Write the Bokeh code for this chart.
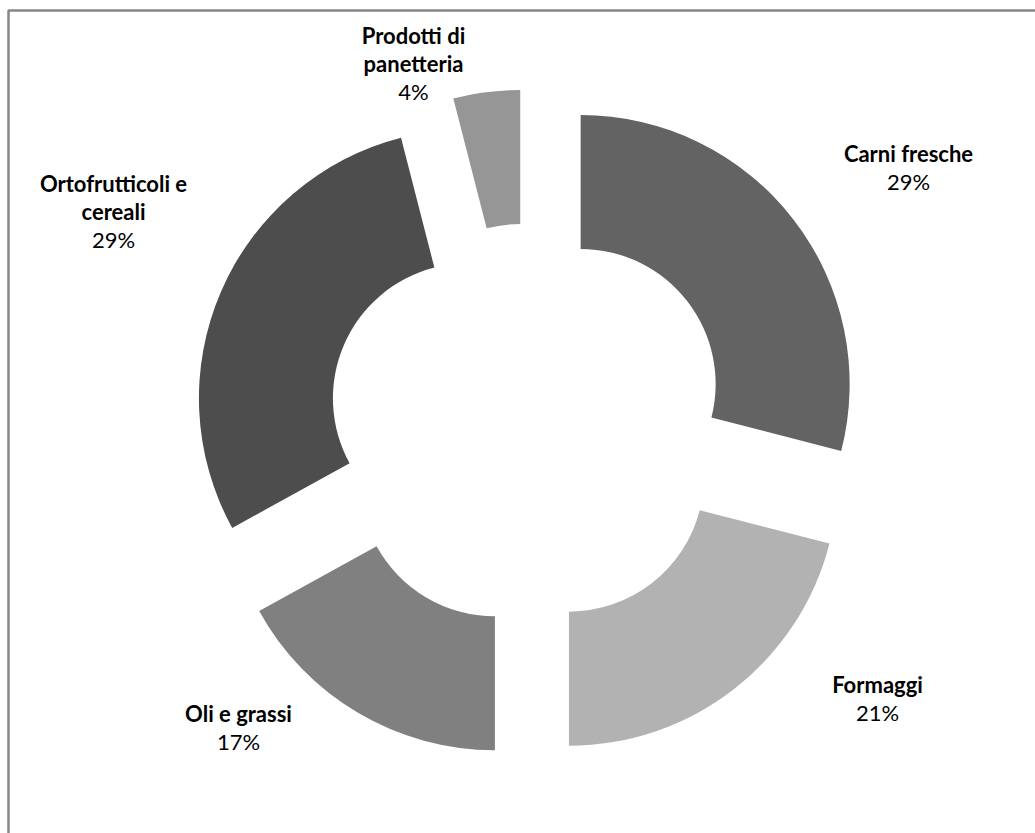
import math
from bokeh.plotting import figure
from bokeh.models import Range1d
from bokeh.core.properties import value
from bokeh.embed import file_html
from bokeh.resources import INLINE

# ---- data ----
categories = ["Carni fresche", "Formaggi", "Oli e grassi", "Ortofrutticoli e cereali", "Prodotti di panetteria"]
name_lines = [["Carni fresche"], ["Formaggi"], ["Oli e grassi"], ["Ortofrutticoli e", "cereali"], ["Prodotti di", "panetteria"]]
shares = [29, 21, 17, 29, 4]
colors = ["#636363", "#b2b2b2", "#808080", "#4d4d4d", "#969696"]

# ---- layout (pixels, y measured from top) ----
W, H = 1035, 833
cx, cy_top = 528, 424
outer_r, inner_r = 269, 135
explode = 66
label_x = [908, 877, 238, 113, 413]
label_pct_y = [181, 712, 741, 239, 91]
line_gap = 28

p = figure(width=W, height=H, output_backend="svg", toolbar_location=None,
           x_range=Range1d(0, W), y_range=Range1d(0, H),
           x_axis_type=None, y_axis_type=None, min_border=0)
p.outline_line_color = None
p.xgrid.visible = False
p.ygrid.visible = False
p.background_fill_color = "white"
p.border_fill_color = "white"

cy = H - cy_top
total = sum(shares)
start_cw = 0.0
for i, s in enumerate(shares):
    span = 360.0 * s / total
    a1, a2 = start_cw, start_cw + span
    mid = math.radians((a1 + a2) / 2)
    x0 = cx + explode * math.sin(mid)
    y0 = cy + explode * math.cos(mid)
    p.annular_wedge(x=[x0], y=[y0], inner_radius=inner_r, outer_radius=outer_r,
                    start_angle=math.radians(90 - a2), end_angle=math.radians(90 - a1),
                    direction="anticlock", fill_color=colors[i], line_color=None)
    start_cw = a2

# labels
for i in range(len(categories)):
    py = H - label_pct_y[i]
    p.text(x=[label_x[i]], y=[py], text=[f"{shares[i]}%"], text_font=value("Lato"),
           text_font_size="22px", text_align="center", text_baseline="middle", text_color="black")
    lines = name_lines[i]
    n = len(lines)
    for k, ln in enumerate(lines):
        ly = py + line_gap * (n - k)
        p.text(x=[label_x[i]], y=[ly], text=[ln], text_font=value("Lato"), text_font_style="bold",
               text_font_size="22px", text_align="center", text_baseline="middle", text_color="black")

# chart frame (top and left edges visible)
p.line(x=[8, 8, W], y=[0, H - 10, H - 10], line_color="#878787", line_width=2.5)

open("out.html", "w").write(file_html(p, INLINE))
